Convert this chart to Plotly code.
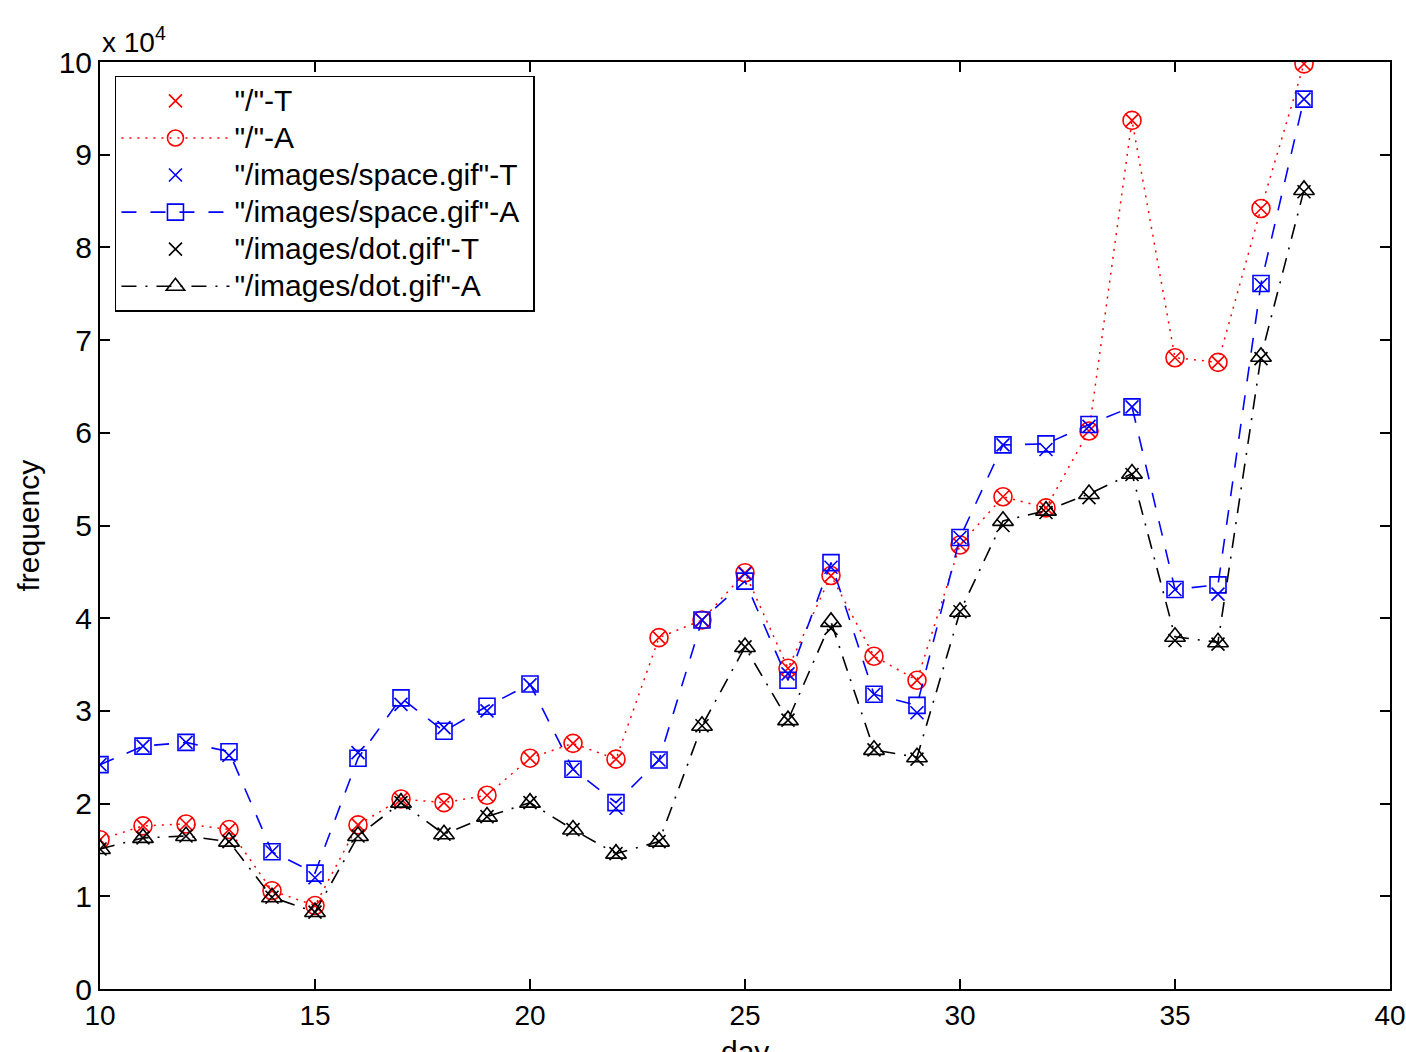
import plotly.graph_objects as go

days = list(range(10, 39))

root_T = [16100, 17600, 17800, 17200, 10600, 9000, 17700, 20500, 20100, 20900,
          24900, 26500, 24800, 37900, 39800, 44900, 34600, 44600, 35900, 33300,
          47900, 53100, 51900, 60200, 93700, 68100, 67600, 84200, 99800]
root_A = [16100, 17600, 17800, 17200, 10600, 9000, 17700, 20500, 20100, 20900,
          24900, 26500, 24800, 37900, 39800, 44900, 34600, 44600, 35900, 33300,
          47900, 53100, 51900, 60200, 93700, 68100, 67600, 84200, 99800]
space_T = [24200, 26200, 26600, 25200, 14800, 12000, 25500, 30700, 28200, 30000,
           32800, 23700, 19500, 24700, 39800, 44800, 34000, 45500, 31800, 29800,
           48700, 58700, 58200, 60700, 62800, 43100, 42600, 76000, 96000]
space_A = [24200, 26200, 26600, 25600, 14800, 12500, 24900, 31400, 27800, 30500,
           32900, 23700, 20100, 24700, 39800, 44000, 33300, 46000, 31800, 30600,
           48700, 58700, 58800, 60900, 62800, 43100, 43600, 76100, 96000]
dot_T = [15100, 16300, 16500, 15900, 9900, 8300, 16500, 20100, 16700, 18600,
         20100, 17200, 14600, 15900, 28400, 36900, 29000, 38900, 25800, 24800,
         40700, 50000, 51400, 53000, 55500, 37600, 37200, 68000, 86000]
dot_A = [15100, 16300, 16500, 15900, 9900, 8300, 16500, 20100, 16700, 18600,
         20100, 17200, 14600, 15900, 28400, 36900, 29000, 39600, 25800, 25000,
         40700, 50500, 51600, 53400, 55600, 38000, 37400, 68200, 86200]

names = ['"/"-T', '"/"-A', '"/images/space.gif"-T', '"/images/space.gif"-A',
         '"/images/dot.gif"-T', '"/images/dot.gif"-A']

y_tickvals = [0, 10000, 20000, 30000, 40000, 50000, 60000, 70000, 80000, 90000, 100000]
y_ticktext = ["0", "1", "2", "3", "4", "5", "6", "7", "8", "9", "10"]
x_tickvals = [10, 15, 20, 25, 30, 35, 40]

FONT = "Liberation Sans, Arial, sans-serif"
FS = 30


def lg(n):
    return '<span style="font-size:30px">' + n + '&nbsp;</span>'


fig = go.Figure()
fig.add_trace(go.Scatter(x=days, y=root_T, mode="markers", name=lg(names[0]),
                         marker=dict(symbol="x-thin-open", size=13, color="red",
                                     line=dict(color="red", width=1.6))))
fig.add_trace(go.Scatter(x=days, y=root_A, mode="lines+markers", name=lg(names[1]),
                         line=dict(color="red", width=1.5, dash="2px,6px"),
                         marker=dict(symbol="circle-open", size=18, color="red",
                                     line=dict(color="red", width=1.6))))
fig.add_trace(go.Scatter(x=days, y=space_T, mode="markers", name=lg(names[2]),
                         marker=dict(symbol="x-thin-open", size=13, color="blue",
                                     line=dict(color="blue", width=1.6))))
fig.add_trace(go.Scatter(x=days, y=space_A, mode="lines+markers", name=lg(names[3]),
                         line=dict(color="blue", width=1.6, dash="15px,14px"),
                         marker=dict(symbol="square-open", size=16, color="blue",
                                     line=dict(color="blue", width=1.6))))
fig.add_trace(go.Scatter(x=days, y=dot_T, mode="markers", name=lg(names[4]),
                         marker=dict(symbol="x-thin-open", size=13, color="black",
                                     line=dict(color="black", width=1.6))))
fig.add_trace(go.Scatter(x=days, y=dot_A, mode="lines+markers", name=lg(names[5]),
                         line=dict(color="black", width=1.6, dash="15px,9px,2px,9px"),
                         marker=dict(symbol="triangle-up-open", size=18, color="black",
                                     line=dict(color="black", width=1.6))))

fig.update_layout(
    width=1406, height=1052,
    margin=dict(l=100, r=16, t=62, b=63),
    plot_bgcolor="white", paper_bgcolor="white",
    font=dict(family=FONT, size=FS, color="black"),
    showlegend=True,
    legend=dict(x=0.0116, y=0.985, xanchor="left", yanchor="top",
                bgcolor="white", bordercolor="black", borderwidth=1.5,
                font=dict(family=FONT, size=26.2, color="black"),
                tracegroupgap=0, itemwidth=108),
    xaxis=dict(range=[10, 40], tickvals=x_tickvals, ticks="inside", ticklen=10,
               tickwidth=1.5, tickcolor="black", showline=True, linecolor="black",
               linewidth=2, mirror="ticks", showgrid=False, zeroline=False,
               automargin=False,
               tickfont=dict(family=FONT, size=28, color="black")),
    yaxis=dict(range=[0, 100000], tickvals=y_tickvals, ticktext=y_ticktext,
               ticks="inside", ticklen=10, tickwidth=1.5, tickcolor="black",
               showline=True, linecolor="black", linewidth=2, mirror="ticks",
               showgrid=False, zeroline=False, automargin=False,
               tickfont=dict(family=FONT, size=FS, color="black")),
    annotations=[
        dict(text="x 10<sup>4</sup>", xref="paper", yref="paper",
             x=0.0, y=1.0, xanchor="left", yanchor="bottom", yshift=2,
             showarrow=False, font=dict(family=FONT, size=28, color="black")),
        dict(text="day", xref="paper", yref="paper", x=0.5, y=0.0,
             xanchor="center", yanchor="top", yshift=-44, showarrow=False,
             font=dict(family=FONT, size=FS, color="black")),
        dict(text="frequency", xref="paper", yref="paper", x=0.0, y=0.5,
             xanchor="center", yanchor="middle", xshift=-72, textangle=-90,
             showarrow=False, font=dict(family=FONT, size=FS, color="black")),
    ],
)

fig.write_html("out.html")
